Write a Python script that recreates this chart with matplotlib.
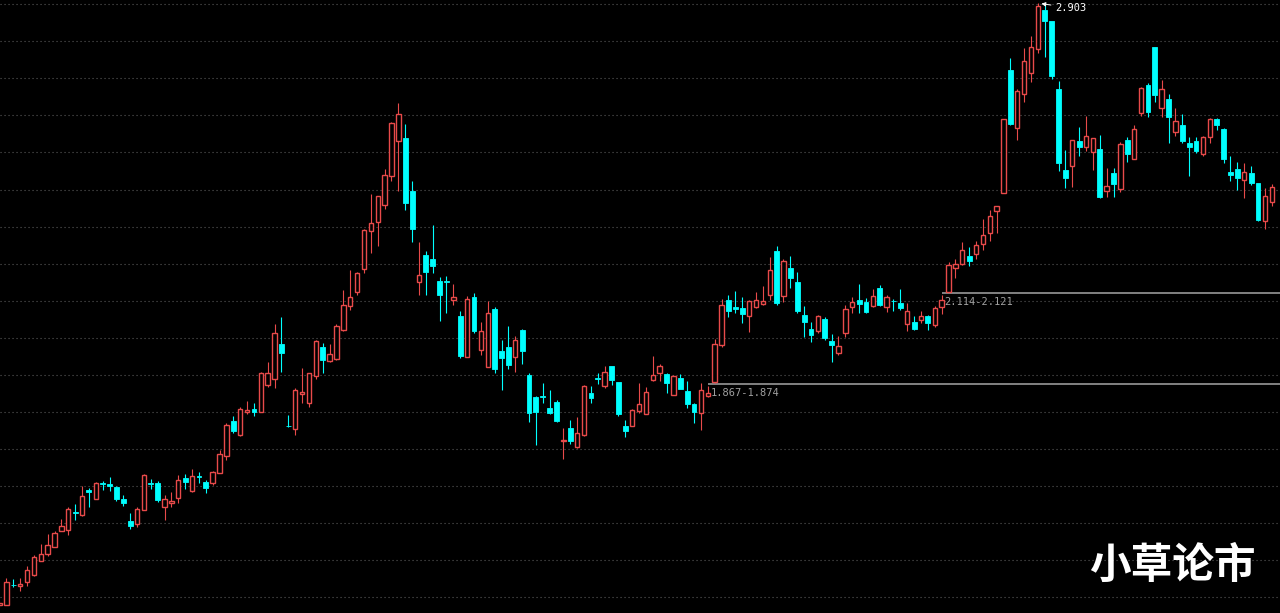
"""
Daily candlestick chart, dark terminal style (hollow red up bars, solid cyan down bars),
with two marked gaps and the peak price label.

Output: out.png
"""

import numpy as np
import matplotlib
matplotlib.use("Agg")
import matplotlib.pyplot as plt


opens = [
    1.272, 1.273, 1.327, 1.325, 1.335, 1.354, 1.392, 1.411, 1.430, 1.473,
    1.476, 1.525, 1.516, 1.584, 1.561, 1.604, 1.600, 1.593, 1.560, 1.500,
    1.493, 1.530, 1.602, 1.602, 1.537, 1.548, 1.562, 1.616, 1.581, 1.622,
    1.607, 1.602, 1.631, 1.677, 1.771, 1.733, 1.795, 1.804, 1.796, 1.869,
    1.886, 1.980, 1.758, 1.750, 1.845, 1.821, 1.894, 1.971, 1.934, 1.939,
    2.018, 2.083, 2.120, 2.182, 2.285, 2.310, 2.357, 2.436, 2.530, 2.537,
    2.394, 2.149, 2.221, 2.210, 2.151, 2.150, 2.098, 2.056, 1.945, 2.108,
    1.964, 1.918, 2.074, 1.960, 1.971, 1.945, 2.019, 1.896, 1.836, 1.839,
    1.806, 1.824, 1.717, 1.751, 1.700, 1.733, 1.847, 1.887, 1.867, 1.919,
    1.876, 1.758, 1.759, 1.799, 1.791, 1.881, 1.900, 1.899, 1.842, 1.888,
    1.852, 1.817, 1.794, 1.840, 1.878, 1.976, 2.099, 2.081, 2.077, 2.056,
    2.079, 2.088, 2.113, 2.232, 2.110, 2.187, 2.149, 2.059, 2.020, 2.015,
    2.048, 1.988, 1.955, 2.009, 2.079, 2.098, 2.093, 2.082, 2.132, 2.079,
    2.097, 2.092, 2.034, 2.039, 2.044, 2.055, 2.032, 2.080, 2.121, 2.187,
    2.196, 2.218, 2.223, 2.250, 2.282, 2.339, 2.390, 2.723, 2.564, 2.656,
    2.713, 2.780, 2.885, 2.855, 2.670, 2.451, 2.463, 2.529, 2.514, 2.500,
    2.507, 2.395, 2.442, 2.400, 2.532, 2.482, 2.607, 2.681, 2.785, 2.619,
    2.643, 2.554, 2.572, 2.524, 2.530, 2.495, 2.542, 2.589, 2.563, 2.446,
    2.454, 2.425, 2.443, 2.415, 2.314, 2.365,
]

highs = [
    1.283, 1.345, 1.342, 1.346, 1.378, 1.407, 1.437, 1.465, 1.472, 1.506,
    1.539, 1.545, 1.595, 1.589, 1.607, 1.608, 1.620, 1.595, 1.570, 1.521,
    1.539, 1.628, 1.615, 1.608, 1.572, 1.578, 1.626, 1.628, 1.640, 1.634,
    1.611, 1.636, 1.694, 1.765, 1.785, 1.808, 1.825, 1.819, 1.903, 1.930,
    2.034, 2.052, 1.787, 1.860, 1.914, 1.901, 1.991, 1.982, 1.980, 2.033,
    2.126, 2.180, 2.176, 2.292, 2.386, 2.381, 2.454, 2.581, 2.632, 2.575,
    2.421, 2.256, 2.232, 2.302, 2.162, 2.165, 2.142, 2.070, 2.109, 2.117,
    2.039, 2.096, 2.079, 1.991, 2.030, 2.001, 2.020, 1.900, 1.839, 1.873,
    1.855, 1.827, 1.752, 1.774, 1.781, 1.869, 1.866, 1.900, 1.920, 1.920,
    1.877, 1.774, 1.805, 1.873, 1.864, 1.947, 1.926, 1.900, 1.896, 1.898,
    1.880, 1.820, 1.873, 1.867, 1.993, 2.101, 2.114, 2.123, 2.108, 2.099,
    2.120, 2.138, 2.216, 2.246, 2.209, 2.219, 2.174, 2.084, 2.039, 2.058,
    2.052, 2.006, 2.002, 2.085, 2.108, 2.142, 2.104, 2.130, 2.141, 2.113,
    2.103, 2.130, 2.090, 2.056, 2.068, 2.058, 2.083, 2.114, 2.203, 2.209,
    2.257, 2.243, 2.259, 2.318, 2.342, 2.355, 2.590, 2.754, 2.670, 2.783,
    2.815, 2.903, 2.901, 2.856, 2.693, 2.506, 2.533, 2.567, 2.597, 2.539,
    2.546, 2.456, 2.456, 2.526, 2.540, 2.572, 2.677, 2.686, 2.786, 2.695,
    2.656, 2.619, 2.603, 2.540, 2.540, 2.543, 2.591, 2.591, 2.565, 2.489,
    2.473, 2.470, 2.462, 2.416, 2.402, 2.413,
]

lows = [
    1.267, 1.272, 1.321, 1.311, 1.325, 1.352, 1.391, 1.406, 1.429, 1.472,
    1.462, 1.502, 1.514, 1.537, 1.559, 1.584, 1.582, 1.554, 1.542, 1.479,
    1.483, 1.529, 1.588, 1.552, 1.502, 1.539, 1.550, 1.588, 1.580, 1.604,
    1.577, 1.598, 1.630, 1.665, 1.739, 1.731, 1.789, 1.785, 1.795, 1.864,
    1.861, 1.903, 1.756, 1.734, 1.821, 1.810, 1.886, 1.901, 1.931, 1.936,
    2.016, 2.072, 2.113, 2.173, 2.227, 2.245, 2.346, 2.422, 2.395, 2.343,
    2.257, 2.112, 2.114, 2.173, 2.042, 2.063, 2.085, 1.943, 1.944, 2.009,
    1.950, 1.917, 1.902, 1.856, 1.913, 1.904, 1.926, 1.768, 1.707, 1.819,
    1.790, 1.769, 1.667, 1.709, 1.699, 1.730, 1.821, 1.872, 1.861, 1.869,
    1.785, 1.727, 1.758, 1.792, 1.790, 1.880, 1.880, 1.848, 1.841, 1.857,
    1.807, 1.767, 1.747, 1.837, 1.874, 1.972, 2.052, 2.064, 2.036, 2.012,
    2.077, 2.085, 2.099, 2.085, 2.093, 2.131, 2.063, 1.998, 1.984, 2.011,
    1.991, 1.930, 1.949, 1.999, 2.063, 2.065, 2.065, 2.081, 2.084, 2.066,
    2.069, 2.071, 2.014, 2.019, 2.037, 2.017, 2.027, 2.061, 2.121, 2.158,
    2.194, 2.190, 2.211, 2.234, 2.260, 2.281, 2.389, 2.573, 2.533, 2.636,
    2.690, 2.768, 2.757, 2.697, 2.449, 2.403, 2.406, 2.489, 2.504, 2.451,
    2.376, 2.379, 2.379, 2.392, 2.473, 2.480, 2.598, 2.594, 2.635, 2.594,
    2.524, 2.543, 2.525, 2.435, 2.498, 2.489, 2.524, 2.560, 2.471, 2.422,
    2.397, 2.376, 2.411, 2.313, 2.292, 2.354,
]

closes = [
    1.277, 1.334, 1.326, 1.330, 1.367, 1.404, 1.410, 1.434, 1.469, 1.487,
    1.532, 1.522, 1.569, 1.578, 1.604, 1.601, 1.596, 1.561, 1.550, 1.488,
    1.533, 1.626, 1.600, 1.556, 1.561, 1.554, 1.612, 1.607, 1.623, 1.619,
    1.589, 1.633, 1.682, 1.760, 1.744, 1.804, 1.801, 1.796, 1.900, 1.900,
    2.009, 1.956, 1.757, 1.855, 1.850, 1.900, 1.987, 1.936, 1.952, 2.028,
    2.086, 2.106, 2.173, 2.289, 2.307, 2.380, 2.437, 2.580, 2.604, 2.363,
    2.292, 2.167, 2.174, 2.192, 2.114, 2.147, 2.108, 1.947, 2.102, 2.015,
    2.014, 2.065, 1.913, 1.943, 1.923, 1.990, 1.962, 1.792, 1.796, 1.837,
    1.793, 1.772, 1.720, 1.716, 1.738, 1.866, 1.834, 1.886, 1.903, 1.882,
    1.790, 1.745, 1.801, 1.817, 1.849, 1.895, 1.920, 1.875, 1.892, 1.859,
    1.817, 1.795, 1.854, 1.846, 1.979, 2.086, 2.069, 2.075, 2.061, 2.097,
    2.099, 2.097, 2.180, 2.092, 2.205, 2.158, 2.069, 2.039, 2.003, 2.056,
    1.996, 1.976, 1.975, 2.075, 2.094, 2.089, 2.066, 2.111, 2.085, 2.108,
    2.096, 2.078, 2.070, 2.020, 2.056, 2.036, 2.077, 2.100, 2.195, 2.197,
    2.234, 2.204, 2.248, 2.275, 2.326, 2.353, 2.589, 2.575, 2.666, 2.747,
    2.785, 2.896, 2.856, 2.706, 2.471, 2.430, 2.532, 2.514, 2.543, 2.538,
    2.378, 2.409, 2.414, 2.521, 2.495, 2.562, 2.674, 2.608, 2.655, 2.672,
    2.594, 2.583, 2.530, 2.514, 2.503, 2.542, 2.589, 2.572, 2.482, 2.438,
    2.430, 2.445, 2.415, 2.316, 2.381, 2.404,
]

# price gaps drawn as horizontal lines from the bar where they open
gap_lows = [1.867, 2.114]
gap_highs = [1.874, 2.121]
gap_start = [103, 137]

watermark = "小草论市"

BG = "#000000"
UP = "#e84a4a"
DOWN = "#00ffff"
GRID = "#5a5a5a"
GAP = "#8c8c8c"

o = np.array(opens)
h = np.array(highs)
l = np.array(lows)
c = np.array(closes)
x = np.arange(len(o))
up = c >= o
body_top = np.maximum(o, c)
body_bot = np.minimum(o, c)

fig = plt.figure(figsize=(12.8, 6.13), dpi=100, facecolor=BG)
ax = fig.add_axes([0, 0, 1, 1], facecolor=BG)

x0 = 0.073
x1 = x0 + 186.13
y0, y1 = 1.251, 2.912

# dotted horizontal grid, evenly spaced from the top
for g in np.arange(2.901, y0, -0.1005):
    ax.axhline(g, color=GRID, lw=0.8, ls=(0, (1, 2.6)), zorder=0)

colors = np.where(up, UP, DOWN)
ax.vlines(x, body_top, h, colors=colors, lw=0.8, zorder=2)
ax.vlines(x, l, body_bot, colors=colors, lw=0.8, zorder=2)

ax.bar(x[~up], (body_top - body_bot)[~up], bottom=body_bot[~up], width=0.7,
       color=DOWN, edgecolor=DOWN, lw=0.6, zorder=3)
ax.bar(x[up], (body_top - body_bot)[up], bottom=body_bot[up], width=0.64,
       facecolor=BG, edgecolor=UP, lw=1.0, zorder=3)

for lo, hi, s in zip(gap_lows, gap_highs, gap_start):
    ax.hlines((lo + hi) / 2, s, x1 + 1, color=GAP, lw=1.3, zorder=1)
    ax.text(s + 0.45, lo - 0.021, f"{lo:.3f}-{hi:.3f}", color="#a0a0a0",
            fontsize=7.5, family="DejaVu Sans Mono", ha="left", va="center", zorder=4)

# peak label
ip = int(np.argmax(h))
ax.annotate(f"{h[ip]:.3f}", xy=(ip + 0.5, h[ip] - 0.001), xytext=(ip + 2.5, h[ip] - 0.012),
            color="white", fontsize=7.5, family="DejaVu Sans Mono", ha="left", va="center",
            arrowprops=dict(arrowstyle="-|>", color="white", lw=0.7, mutation_scale=6,
                            shrinkA=1, shrinkB=0), zorder=5)

ax.text(0.9156, 0.0767, watermark, transform=ax.transAxes, fontsize=30, color="white",
        family=["Noto Sans CJK SC", "DejaVu Sans"], weight="bold", ha="center", va="center",
        zorder=6)

ax.set_xlim(x0, x1)
ax.set_ylim(y0, y1)
ax.axis("off")

fig.savefig("out.png", dpi=100, facecolor=BG)
plt.close(fig)
